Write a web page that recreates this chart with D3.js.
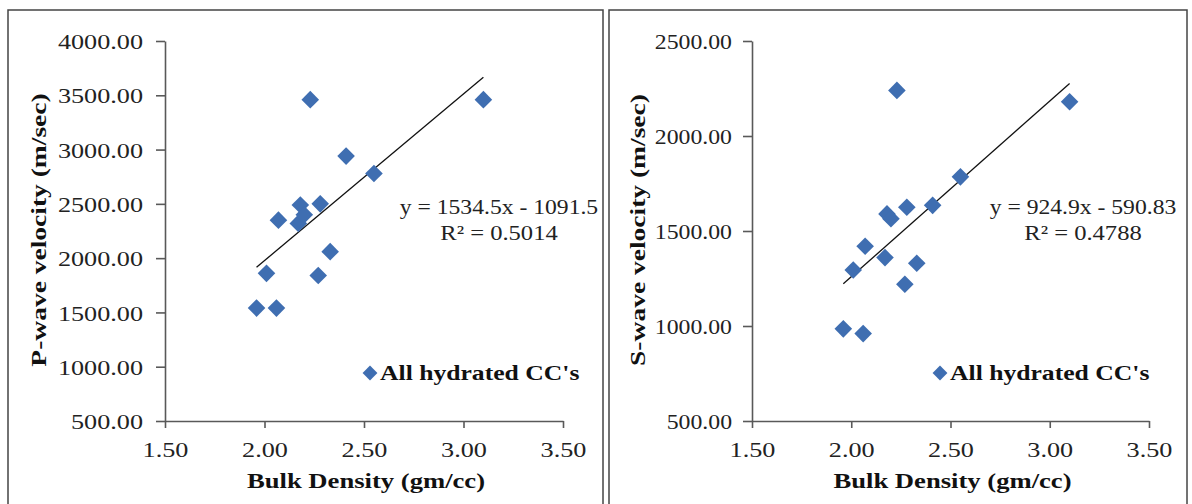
<!DOCTYPE html>
<html>
<head>
<meta charset="utf-8">
<script src="https://cdn.jsdelivr.net/npm/d3@7"></script>
<style>
  body { margin: 0; background: #fff; }
  svg { display: block; font-family: "Liberation Serif", "Times New Roman", serif; }
</style>
</head>
<body>
<div id="chart"></div>
<script>
// bulk density shared by both panels
const density = [1.96, 2.01, 2.06, 2.07, 2.17, 2.18, 2.20, 2.23, 2.27, 2.28, 2.33, 2.41, 2.55, 3.10];
const pWave = [1540, 1860, 1540, 2350, 2320, 2490, 2400, 3460, 1840, 2500, 2060, 2940, 2780, 3460];
const sWave = [985, 1295, 960, 1420, 1360, 1590, 1565, 2240, 1220, 1625, 1330, 1635, 1785, 2180];

const xTicks = [1.5, 2.0, 2.5, 3.0, 3.5];
const pTicks = [500, 1000, 1500, 2000, 2500, 3000, 3500, 4000];
const sTicks = [500, 1000, 1500, 2000, 2500];

const pFit = { slope: 1534.5, intercept: -1091.5, r2: "0.5014" };
const sFit = { slope: 924.9, intercept: -590.83, r2: "0.4788" };

const xLabel = "Bulk Density (gm/cc)";
const pLabel = "P-wave  velocity (m/sec)";
const sLabel = "S-wave  velocity (m/sec)";
const legendLabel = "All hydrated CC's";

const width = 1192, height = 504;
const blue = "#3f6eb1", axisColor = "#595959";

const svg = d3.select("#chart").append("svg")
    .attr("width", width)
    .attr("height", height);

const diamond = d3.symbol().type(d3.symbolSquare);

function panel(o) {
    const g = svg.append("g");

    // outer frame (runs off the bottom edge)
    g.append("rect")
        .attr("x", o.frame[0]).attr("y", 10)
        .attr("width", o.frame[1] - o.frame[0]).attr("height", 520)
        .attr("fill", "none").attr("stroke", "#444").attr("stroke-width", 1.5);

    const x = d3.scaleLinear().domain([1.5, 3.5]).range(o.xRange);
    const y = d3.scaleLinear().domain(d3.extent(o.yTicks)).range([421, 41]);

    const xAxis = g.append("g")
        .attr("transform", `translate(0,${y.range()[0]})`)
        .call(d3.axisBottom(x).tickValues(xTicks).tickFormat(d3.format(".2f"))
            .tickSizeInner(7).tickSizeOuter(0).tickPadding(10));
    const yAxis = g.append("g")
        .attr("transform", `translate(${x.range()[0]},0)`)
        .call(d3.axisLeft(y).tickValues(o.yTicks).tickFormat(d3.format(".2f"))
            .tickSizeInner(9).tickSizeOuter(0).tickPadding(o.yPad));

    [xAxis, yAxis].forEach(a => {
        a.select(".domain").attr("stroke", axisColor).attr("stroke-width", 1.6);
        a.selectAll(".tick line").attr("stroke", axisColor).attr("stroke-width", 1.6);
        a.selectAll(".tick text").attr("fill", "#222").attr("font-size", 22)
            .attr("font-family", "Liberation Serif").attr("data-k", 1.19);
    });
    xAxis.selectAll(".tick text").attr("dy", "0.85em");
    yAxis.selectAll(".tick text").attr("dy", "0.35em").attr("data-k", o.yTickK);

    // axis titles
    g.append("text")
        .attr("data-k", 1.21)
        .attr("x", (x.range()[0] + x.range()[1]) / 2 + 2).attr("y", 488)
        .attr("text-anchor", "middle").attr("font-size", 22).attr("font-weight", "bold")
        .attr("fill", "#111")
        .text(xLabel);
    g.append("text")
        .attr("data-k", 1.25)
        .attr("transform", `translate(${o.yTitleX},230) rotate(-90)`)
        .attr("text-anchor", "middle").attr("font-size", 22).attr("font-weight", "bold")
        .attr("fill", "#111")
        .text(o.yLabel);

    // trend line across the data range
    const xs = d3.extent(density);
    g.append("line")
        .attr("x1", x(xs[0])).attr("y1", y(o.fit.slope * xs[0] + o.fit.intercept))
        .attr("x2", x(xs[1])).attr("y2", y(o.fit.slope * xs[1] + o.fit.intercept))
        .attr("stroke", "#111").attr("stroke-width", 1.3);

    // points
    g.selectAll("path.pt")
        .data(density.map((d, i) => [d, o.values[i]]))
        .join("path")
        .attr("class", "pt")
        .attr("d", diamond.size(155))
        .attr("transform", d => `translate(${x(d[0])},${y(d[1])}) rotate(45)`)
        .attr("fill", blue);

    // equation
    const eq = g.append("text")
        .attr("text-anchor", "middle").attr("font-size", 21).attr("fill", "#222");
    eq.append("tspan").attr("data-k", 1.125)
        .attr("x", o.eqX).attr("y", 214)
        .text(`y = ${o.fit.slope}x - ${Math.abs(o.fit.intercept)}`);
    eq.append("tspan").attr("data-k", 1.17)
        .attr("x", o.eqX).attr("y", 240)
        .text(`R² = ${o.fit.r2}`);

    // legend
    g.append("path")
        .attr("d", diamond.size(110))
        .attr("transform", `translate(${o.legendX},373) rotate(45)`)
        .attr("fill", blue);
    g.append("text")
        .attr("data-k", 1.165)
        .attr("x", o.legendX + 10).attr("y", 380)
        .attr("font-size", 22).attr("font-weight", "bold").attr("fill", "#111")
        .text(legendLabel);
}

panel({ frame: [8, 603], xRange: [165, 563], yTicks: pTicks, values: pWave, fit: pFit,
        yLabel: pLabel, yTitleX: 46, eqX: 499, legendX: 370, yTickK: 1.19, yPad: 13 });
panel({ frame: [609, 1187], xRange: [752, 1149], yTicks: sTicks, values: sWave, fit: sFit,
        yLabel: sLabel, yTitleX: 645, eqX: 1083, legendX: 940, yTickK: 1.08, yPad: 11 });

// widen text a little, like the source image
svg.selectAll("[data-k]").each(function () {
    const n = this.getComputedTextLength();
    const k = +this.getAttribute("data-k");
    d3.select(this).attr("textLength", n * k).attr("lengthAdjust", "spacingAndGlyphs");
});
</script>
</body>
</html>
